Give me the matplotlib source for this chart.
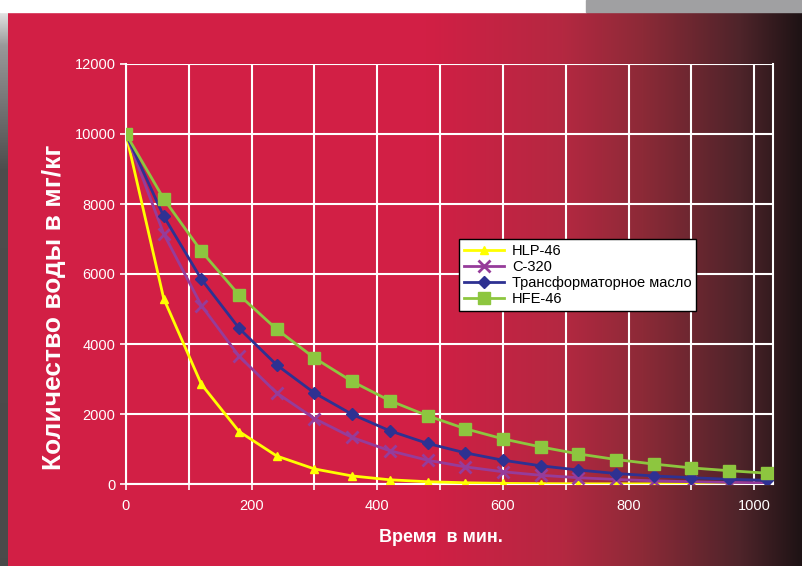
import numpy as np
import matplotlib
matplotlib.use("Agg")
import matplotlib.pyplot as plt
from matplotlib.patches import Rectangle
from matplotlib.ticker import MultipleLocator

plt.rcParams['font.family'] = ['Liberation Sans', 'DejaVu Sans']

# time in minutes
minutes = [0, 60, 120, 180, 240, 300, 360, 420, 480, 540, 600,
           660, 720, 780, 840, 900, 960, 1020]

# water content, mg/kg
hlp46 = [10000, 5300, 2850, 1500, 800, 430, 230, 120, 65, 35, 18,
         10, 5, 3, 2, 1, 1, 0]
c320 = [10000, 7150, 5100, 3650, 2600, 1870, 1330, 950, 680, 490, 350,
        250, 180, 130, 90, 65, 45, 35]
transformer = [10000, 7650, 5850, 4450, 3400, 2600, 1990, 1520, 1160, 890, 680,
               520, 400, 300, 230, 180, 135, 105]
hfe46 = [10000, 8150, 6650, 5400, 4420, 3600, 2930, 2380, 1950, 1580, 1290,
         1060, 860, 700, 570, 460, 380, 310]

labels = ['HLP-46', 'C-320', 'Трансформаторное масло', 'HFE-46']

fig = plt.figure(figsize=(8.03, 5.66), dpi=100)
W, H = 803, 566

# background: red fading to black on the right
bg = fig.add_axes([0, 0, 1, 1], zorder=-10)
bg.axis('off')
stops = [(0, (210, 31, 69)), (425, (210, 31, 69)), (562, (180, 40, 65)),
         (642, (140, 42, 55)), (740, (78, 36, 42)), (803, (28, 18, 20))]
xs = np.arange(W)
sx = [s[0] for s in stops]
row = np.stack([np.interp(xs, sx, [s[1][i] for s in stops]) for i in range(3)], axis=-1) / 255
img = np.repeat(row[None, :, :], H, axis=0)
bg.imshow(img, extent=(0, W, H, 0), aspect='auto')
bg.add_patch(Rectangle((0, 0), 586, 12, color='white'))
bg.add_patch(Rectangle((586, 0), W - 586, 12, color='#a0a0a2'))
left = np.linspace(0, 1, H)
strip = np.interp(left, [0, 0.08, 0.3, 1], [1.0, 0.6, 0.3, 0.29])
bg.imshow(np.repeat(strip[:, None], 3, axis=1)[:, None, :].repeat(8, axis=1),
          extent=(0, 8, H, 0), aspect='auto')
bg.set_xlim(0, W)
bg.set_ylim(H, 0)

ax = fig.add_axes([126 / W, 1 - 484 / H, (773 - 126) / W, (484 - 64) / H])
ax.patch.set_alpha(0)

ax.plot(minutes, hlp46, color='#ffff00', lw=2, marker='^', ms=6, label=labels[0], zorder=3)
ax.plot(minutes, c320, color='#963c9a', lw=2, marker='x', ms=8, mew=2, label=labels[1], zorder=4)
ax.plot(minutes, transformer, color='#2e3192', lw=2, marker='D', ms=6, label=labels[2], zorder=5)
ax.plot(minutes, hfe46, color='#8dc63f', lw=2, marker='s', ms=8, label=labels[3], zorder=6)

ax.set_xlim(0, 1030)
ax.set_ylim(0, 12000)
ax.xaxis.set_major_locator(MultipleLocator(200))
ax.xaxis.set_minor_locator(MultipleLocator(100))
ax.yaxis.set_major_locator(MultipleLocator(2000))
ax.grid(True, which='both', color='white', lw=1.5)
ax.set_axisbelow(True)
for s in ['left', 'bottom', 'right']:
    ax.spines[s].set_color('white')
    ax.spines[s].set_linewidth(1.5)
ax.spines['top'].set_visible(False)
ax.tick_params(which='both', colors='white', labelsize=10.5, length=4, width=1.2)
ax.tick_params(axis='x', pad=7)

# axis titles placed in pixel coordinates of the original
fig.text(441 / W, 1 - 537 / H, 'Время  в мин.', color='white', fontsize=13,
         fontweight='bold', ha='center', va='center')
fig.text(54 / W, 1 - 307 / H, 'Количество воды в мг/кг', color='white', fontsize=19,
         fontweight='bold', ha='center', va='center', rotation=90)

leg = ax.legend(loc='upper left', bbox_to_anchor=((452 - 126) / 647, (484 - 232) / 420),
                frameon=True, fancybox=False, fontsize=10.5, handlelength=2.8,
                borderpad=0.3, labelspacing=0.15, handletextpad=0.5)
leg.get_frame().set_facecolor('white')
leg.get_frame().set_edgecolor('black')
leg.get_frame().set_alpha(1)

fig.savefig('out.png', dpi=100)
